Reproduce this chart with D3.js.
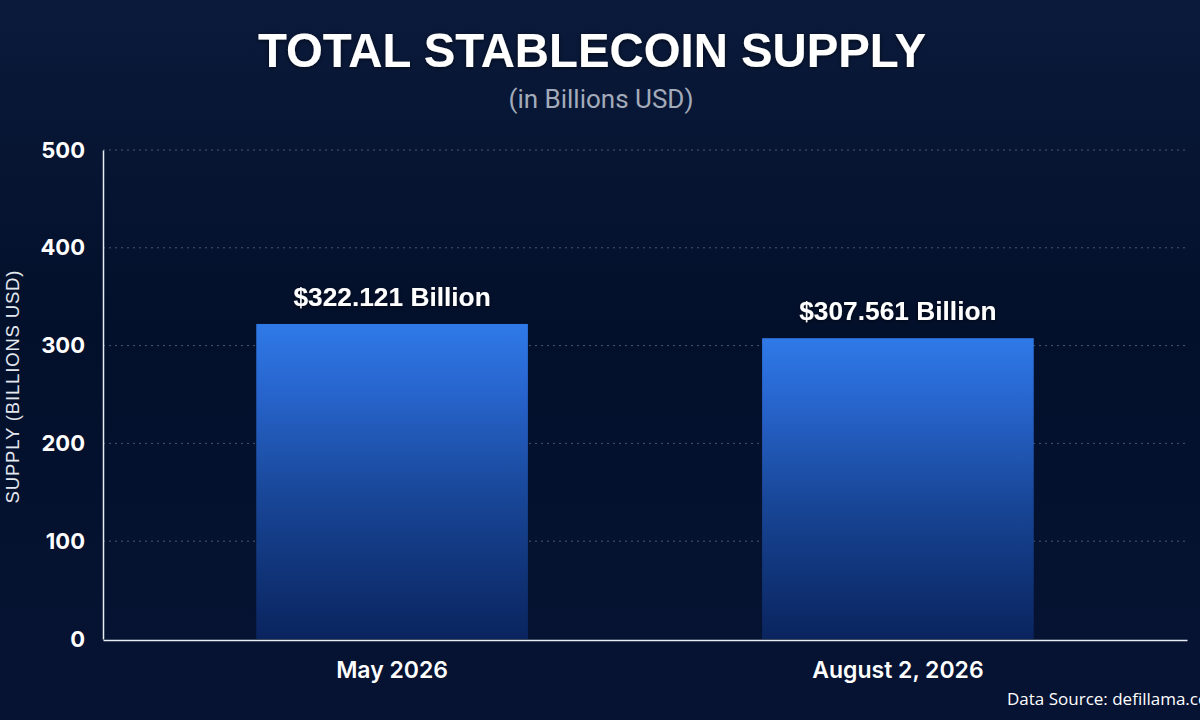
<!DOCTYPE html>
<html>
<head>
<meta charset="utf-8">
<script src="https://cdn.jsdelivr.net/npm/d3@7"></script>
<style>
  html, body { margin: 0; padding: 0; background: #040e26; overflow: hidden; }
  svg { display: block; }
</style>
</head>
<body>
<svg id="svg"></svg>
<script>
// chart data
let categories = ["May 2026", "August 2, 2026"];
let supply = [322.121, 307.561];
let barLabels = ["$322.121 Billion", "$307.561 Billion"];
let yTicks = [0, 100, 200, 300, 400, 500];

let width = 1200, height = 720;
let margin = { top: 150, right: 13, bottom: 80, left: 103 };

let svg = d3.select("#svg").attr("width", width).attr("height", height);

let defs = svg.append("defs");
let bg = defs.append("linearGradient").attr("id", "bg").attr("x1", 0).attr("y1", 0).attr("x2", 0).attr("y2", 1);
bg.append("stop").attr("offset", "0%").attr("stop-color", "#0b1a3b");
bg.append("stop").attr("offset", "45%").attr("stop-color", "#03102b");
bg.append("stop").attr("offset", "100%").attr("stop-color", "#061333");

let barGrad = defs.append("linearGradient").attr("id", "barGrad").attr("x1", 0).attr("y1", 0).attr("x2", 0).attr("y2", 1);
barGrad.append("stop").attr("offset", "0%").attr("stop-color", "#2f7ae8");
barGrad.append("stop").attr("offset", "20%").attr("stop-color", "#2866cf");
barGrad.append("stop").attr("offset", "55%").attr("stop-color", "#184697");
barGrad.append("stop").attr("offset", "100%").attr("stop-color", "#0a245e");

let glow = defs.append("filter").attr("id", "glow").attr("x", "-10%").attr("y", "-30%").attr("width", "120%").attr("height", "160%");
glow.append("feDropShadow").attr("dx", 0).attr("dy", 1).attr("stdDeviation", 2).attr("flood-color", "#000").attr("flood-opacity", 0.6);

svg.append("rect").attr("width", width).attr("height", height).attr("fill", "url(#bg)");

let x0 = margin.left, x1 = width - margin.right;
let y0 = height - margin.bottom, y1 = margin.top;

let xScale = d3.scaleBand().domain(categories).range([x0, x1]).paddingInner(0.463).paddingOuter(0.303);
let yScale = d3.scaleLinear().domain([0, 500]).range([y0 - 1, y1]);

// gridlines
svg.append("g")
    .selectAll("line")
    .data(yTicks.filter(d => d > 0))
    .join("line")
    .attr("x1", x0).attr("x2", x1)
    .attr("y1", d => yScale(d)).attr("y2", d => yScale(d))
    .attr("stroke", "#4a5875")
    .attr("stroke-width", 1)
    .attr("stroke-dasharray", "2,4");

// bars
svg.append("g")
    .selectAll("rect")
    .data(supply)
    .join("rect")
    .attr("x", (d, i) => xScale(categories[i]))
    .attr("width", xScale.bandwidth())
    .attr("y", d => yScale(d))
    .attr("height", d => yScale(0) - yScale(d))
    .attr("fill", "url(#barGrad)");

// value labels
svg.append("g")
    .selectAll("text")
    .data(supply)
    .join("text")
    .attr("x", (d, i) => xScale(categories[i]) + xScale.bandwidth() / 2)
    .attr("y", d => yScale(d) - 18)
    .attr("text-anchor", "middle")
    .attr("fill", "#ffffff")
    .attr("font-family", "'Liberation Sans', Arial, sans-serif")
    .attr("font-weight", 700)
    .attr("font-size", 26.3)
    .attr("filter", "url(#glow)")
    .text((d, i) => barLabels[i]);

// y axis
let yAxis = svg.append("g")
    .attr("transform", `translate(${x0}, 0)`)
    .call(d3.axisLeft(yScale).tickValues(yTicks).tickSize(0).tickPadding(18).tickFormat(d3.format("d")));
yAxis.select(".domain").attr("stroke", "#e8ecf2").attr("stroke-width", 1.5);
yAxis.selectAll("text")
    .attr("fill", "#ffffff")
    .attr("font-family", "Inter, sans-serif")
    .attr("font-weight", 700)
    .attr("font-size", 22);

// x axis
let xAxis = svg.append("g")
    .attr("transform", `translate(0, ${y0})`)
    .call(d3.axisBottom(xScale).tickSize(0).tickPadding(22));
xAxis.select(".domain").attr("stroke", "#e8ecf2").attr("stroke-width", 1.5);
xAxis.selectAll("text")
    .attr("fill", "#ffffff")
    .attr("font-family", "Inter, sans-serif")
    .attr("font-weight", 600)
    .attr("font-size", 23);

// y axis title
svg.append("text")
    .attr("transform", `translate(19, 387) rotate(-90)`)
    .attr("text-anchor", "middle")
    .attr("fill", "#e4e8ef")
    .attr("font-family", "'Liberation Sans', Arial, sans-serif")
    .attr("font-size", 18.5)
    .attr("textLength", 233)
    .text("SUPPLY (BILLIONS USD)");

// title
svg.append("text")
    .attr("x", 592).attr("y", 67)
    .attr("text-anchor", "middle")
    .attr("fill", "#ffffff")
    .attr("font-family", "'Liberation Sans', Arial, sans-serif")
    .attr("font-weight", 700)
    .attr("font-size", 48)
    .attr("textLength", 668)
    .attr("lengthAdjust", "spacingAndGlyphs")
    .attr("filter", "url(#glow)")
    .text("TOTAL STABLECOIN SUPPLY");

svg.append("text")
    .attr("x", 601).attr("y", 108)
    .attr("text-anchor", "middle")
    .attr("fill", "#a3abba")
    .attr("font-family", "Roboto, sans-serif")
    .attr("font-size", 26)
    .text("(in Billions USD)");

// source
svg.append("text")
    .attr("x", 1007).attr("y", 705)
    .attr("fill", "#ffffff")
    .attr("font-family", "'Open Sans', sans-serif")
    .attr("font-size", 17)
    .text("Data Source: defillama.com");
</script>
</body>
</html>
